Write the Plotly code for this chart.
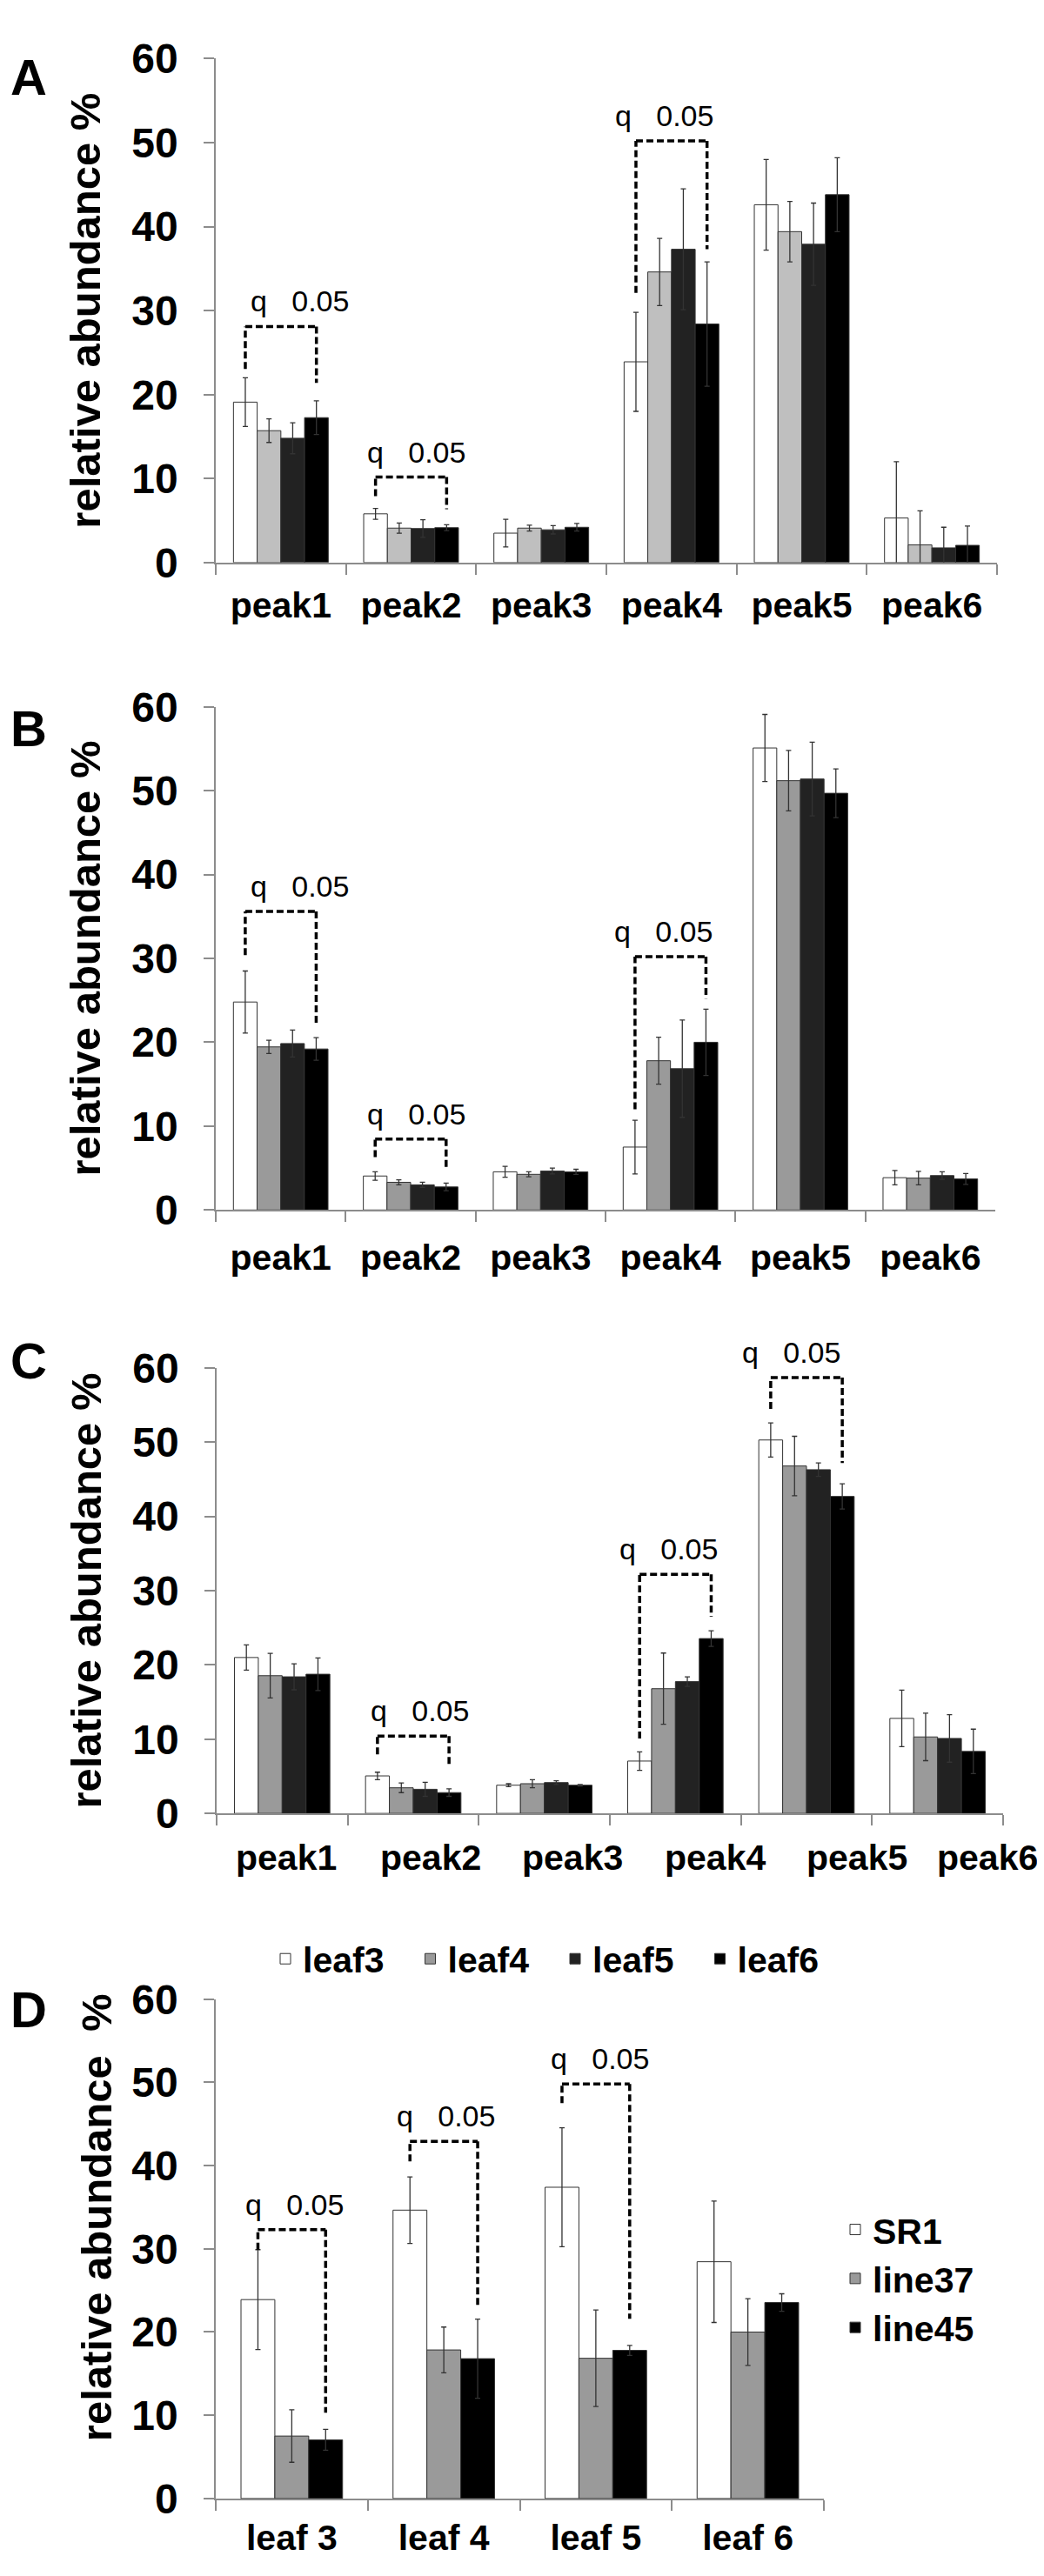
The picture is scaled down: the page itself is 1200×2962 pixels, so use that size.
import plotly.graph_objects as go

W, H = 1200, 2962
FONT = "Liberation Sans, Arial, Helvetica, sans-serif"

# ---------------- data ----------------
peaks = ["peak1", "peak2", "peak3", "peak4", "peak5", "peak6"]
leaf_series = ["leaf3", "leaf4", "leaf5", "leaf6"]

A_leaf3 = [19.1, 5.8, 3.5, 23.9, 42.6, 5.3]
A_leaf3_err = [2.9, 0.65, 1.65, 5.9, 5.4, 6.7]
A_leaf4 = [15.7, 4.1, 4.1, 34.6, 39.4, 2.1]
A_leaf4_err = [1.4, 0.6, 0.35, 4.0, 3.6, 4.05]
A_leaf5 = [14.8, 4.05, 3.9, 37.3, 37.9, 1.75]
A_leaf5_err = [1.85, 1.05, 0.5, 7.2, 4.9, 2.45]
A_leaf6 = [17.25, 4.15, 4.2, 28.4, 43.8, 2.05]
A_leaf6_err = [2.0, 0.35, 0.45, 7.4, 4.4, 2.3]

B_leaf3 = [24.8, 4.05, 4.55, 7.5, 55.1, 3.85]
B_leaf3_err = [3.7, 0.5, 0.65, 3.2, 4.0, 0.85]
B_leaf4 = [19.45, 3.3, 4.25, 17.8, 51.2, 3.8]
B_leaf4_err = [0.8, 0.3, 0.3, 2.8, 3.6, 0.8]
B_leaf5 = [19.85, 3.0, 4.65, 16.85, 51.4, 4.1]
B_leaf5_err = [1.6, 0.3, 0.35, 5.8, 4.4, 0.45]
B_leaf6 = [19.2, 2.75, 4.55, 20.0, 49.7, 3.7]
B_leaf6_err = [1.35, 0.45, 0.3, 3.95, 2.9, 0.65]

C_leaf3 = [21.0, 5.05, 3.8, 7.05, 50.3, 12.8]
C_leaf3_err = [1.7, 0.5, 0.2, 1.25, 2.3, 3.8]
C_leaf4 = [18.55, 3.45, 4.0, 16.8, 46.8, 10.3]
C_leaf4_err = [3.0, 0.65, 0.55, 4.8, 4.0, 3.2]
C_leaf5 = [18.4, 3.25, 4.15, 17.75, 46.3, 10.1]
C_leaf5_err = [1.75, 0.95, 0.25, 0.65, 0.9, 3.2]
C_leaf6 = [18.75, 2.8, 3.8, 23.55, 42.7, 8.35]
C_leaf6_err = [2.2, 0.5, 0.1, 1.05, 1.7, 3.0]

leaves = ["leaf 3", "leaf 4", "leaf 5", "leaf 6"]
line_series = ["SR1", "line37", "line45"]
D_SR1 = [23.9, 34.65, 37.4, 28.45]
D_SR1_err = [6.0, 4.0, 7.15, 7.3]
D_line37 = [7.5, 17.85, 16.85, 20.0]
D_line37_err = [3.15, 2.75, 5.8, 4.0]
D_line45 = [7.05, 16.8, 17.8, 23.55]
D_line45_err = [1.25, 4.75, 0.6, 1.05]

# significance brackets: (panel, category index, first bar, last bar, top, left leg end, right leg end)
brackets = [
    ("A", 0, 0, 3, 28.1, 23.05, 21.4),
    ("A", 1, 0, 3, 10.17, 7.9, 6.35),
    ("A", 3, 0, 3, 50.2, 32.1, 37.3),
    ("B", 0, 0, 3, 35.6, 30.4, 22.3),
    ("B", 1, 0, 3, 8.46, 6.3, 4.83),
    ("B", 3, 0, 3, 30.2, 12.0, 25.2),
    ("C", 1, 0, 3, 10.4, 7.96, 6.23),
    ("C", 3, 0, 3, 32.2, 10.1, 26.5),
    ("C", 4, 0, 3, 58.7, 54.5, 47.2),
    ("D", 0, 0, 2, 32.3, 29.9, 10.3),
    ("D", 1, 0, 2, 42.9, 40.5, 23.2),
    ("D", 2, 0, 2, 49.8, 47.5, 21.6),
]
bracket_label = "q\u00a0\u00a0\u00a00.05"
bracket_text_shift = [22, 6, -8, 22, 6, -8, 7, -8, -18, 3, 2, 5]

# ---------------- layout geometry (pixels) ----------------
panels = {
    "A": dict(xa="x", ya="y", x=(240, 1138), y=(34, 624)),
    "B": dict(xa="x2", ya="y2", x=(240, 1136), y=(793, 1382)),
    "C": dict(xa="x3", ya="y3", x=(241, 1145), y=(1567, 2088.5)),
    "D": dict(xa="x4", ya="y4", x=(240, 939), y=(2306, 2890.6)),
}
GAP_PEAK = 0.272
GAP_LEAF = 0.332

fig = go.Figure()


def add_group(panel, cats, vals_list, errs_list, names, colors, gap, legend=None):
    p = panels[panel]
    n = len(vals_list)
    bw = (1 - gap) / n
    for k in range(n):
        fig.add_trace(go.Bar(
            x=cats, y=vals_list[k], name=names[k],
            xaxis=p["xa"], yaxis=p["ya"],
            width=bw, offset=-(1 - gap) / 2 + k * bw,
            marker=dict(color=colors[k], line=dict(color="#333333", width=1)),
            error_y=dict(type="data", array=errs_list[k], visible=True,
                         color="#333333", thickness=1.3, width=3),
            cliponaxis=False,
            showlegend=legend is not None,
            legend=legend if legend else "legend",
        ))


add_group("A", peaks, [A_leaf3, A_leaf4, A_leaf5, A_leaf6],
          [A_leaf3_err, A_leaf4_err, A_leaf5_err, A_leaf6_err],
          leaf_series, ["#ffffff", "#bfbfbf", "#222222", "#000000"], GAP_PEAK)
add_group("B", peaks, [B_leaf3, B_leaf4, B_leaf5, B_leaf6],
          [B_leaf3_err, B_leaf4_err, B_leaf5_err, B_leaf6_err],
          leaf_series, ["#ffffff", "#9a9a9a", "#222222", "#000000"], GAP_PEAK)
add_group("C", peaks, [C_leaf3, C_leaf4, C_leaf5, C_leaf6],
          [C_leaf3_err, C_leaf4_err, C_leaf5_err, C_leaf6_err],
          leaf_series, ["#ffffff", "#9a9a9a", "#222222", "#000000"], GAP_PEAK,
          legend="legend")
add_group("D", leaves, [D_SR1, D_line37, D_line45],
          [D_SR1_err, D_line37_err, D_line45_err],
          line_series, ["#ffffff", "#9a9a9a", "#000000"], GAP_LEAF,
          legend="legend2")

# ---------------- axes ----------------
AX_GRAY = "#8c8c8c"
TITLE_FONT = dict(family=FONT, size=49, color="black", weight="bold")
layout_axes = {}
standoffs = {"A": 12, "B": 18, "C": 12, "D": 8}
for i, (key, p) in enumerate(panels.items()):
    sfx = "" if i == 0 else str(i + 1)
    cats = leaves if key == "D" else peaks
    layout_axes["xaxis" + sfx] = dict(
        domain=[p["x"][0] / W, p["x"][1] / W], anchor="y" + sfx,
        type="category", categoryorder="array", categoryarray=cats,
        range=[-0.5, len(cats) - 0.5],
        showline=True, linecolor=AX_GRAY, linewidth=1.5,
        ticks="outside", ticklen=12, tickcolor=AX_GRAY, tickwidth=1.5,
        tickson="boundaries", showgrid=False, zeroline=False,
        showticklabels=(key != "C"),
        ticklabelstandoff=standoffs[key],
        tickfont=dict(family=FONT, size=41, color="black", weight="bold"),
    )
    layout_axes["yaxis" + sfx] = dict(
        domain=[1 - p["y"][1] / H, 1 - p["y"][0] / H], anchor="x" + sfx,
        range=[0, 60], tick0=0, dtick=10,
        showline=True, linecolor=AX_GRAY, linewidth=1.5,
        ticks="outside", ticklen=12, tickcolor=AX_GRAY, tickwidth=1.5,
        showgrid=False, zeroline=False,
        ticklabelstandoff=20,
        tickfont=dict(family=FONT, size=48, color="black", weight="bold"),
    )
    if key != "D":
        layout_axes["yaxis" + sfx]["title"] = dict(
            text="relative abundance %", standoff=20, font=TITLE_FONT)

# ---------------- brackets ----------------
shapes = []
annotations = []
for (panel, ci, b0, b1, top, yl, yr), shift in zip(brackets, bracket_text_shift):
    p = panels[panel]
    n = 3 if panel == "D" else 4
    gap = GAP_LEAF if panel == "D" else GAP_PEAK
    bw = (1 - gap) / n
    xl = ci - (1 - gap) / 2 + (b0 + 0.5) * bw
    xr = ci - (1 - gap) / 2 + (b1 + 0.5) * bw
    dash_line = dict(color="black", width=3.5, dash="8px,4px")
    for (x0, y0, x1, y1) in [(xl, yl, xl, top), (xl, top, xr, top), (xr, top, xr, yr)]:
        shapes.append(dict(type="line", xref=p["xa"], yref=p["ya"],
                           x0=x0, y0=y0, x1=x1, y1=y1, line=dash_line, layer="above"))
    annotations.append(dict(
        text=bracket_label, xref=p["xa"], yref=p["ya"], x=(xl + xr) / 2, y=top,
        xanchor="center", yanchor="bottom", yshift=8, xshift=shift, showarrow=False,
        font=dict(family=FONT, size=34, color="black")))

# panel C: shifted category labels (as in the original)
C_label_pos = [0.032, 1.13, 2.216, 3.30, 4.388, 5.38]
for name, xp in zip(peaks, C_label_pos):
    annotations.append(dict(
        text=name, xref="x3", yref="y3", x=xp, y=0, xanchor="center", yanchor="top",
        yshift=-26, showarrow=False,
        font=dict(family=FONT, size=41, color="black", weight="bold")))

# panel D y title (sits a little above the axis centre in the original)
annotations.append(dict(
    text="relative abundance\u00a0\u00a0%", textangle=-90,
    xref="paper", yref="paper", x=103 / W, y=1 - 2562 / H,
    xanchor="center", yanchor="middle", showarrow=False, font=TITLE_FONT))

# panel letters
for letter, ytop in [("A", 32), ("B", 795), ("C", 1535), ("D", 2295)]:
    annotations.append(dict(
        text=letter, xref="paper", yref="paper", x=2 / W, y=1 - (ytop - 12) / H,
        xanchor="left", yanchor="top", showarrow=False,
        font=dict(family=FONT, size=58, color="black", weight="bold")))

fig.update_layout(
    width=W, height=H, autosize=False,
    margin=dict(l=0, r=0, t=0, b=0),
    paper_bgcolor="white", plot_bgcolor="white",
    barmode="overlay",
    font=dict(family=FONT, color="black"),
    shapes=shapes, annotations=annotations,
    legend=dict(orientation="h", x=300 / W, xanchor="left",
                y=1 - 2259 / H, yanchor="middle",
                entrywidth=121.5, entrywidthmode="pixels",
                traceorder="normal", bgcolor="rgba(0,0,0,0)",
                font=dict(family=FONT, size=41, color="black", weight="bold")),
    legend2=dict(orientation="v", x=955 / W, xanchor="left",
                 y=1 - 2633 / H, yanchor="middle",
                 traceorder="normal", bgcolor="rgba(0,0,0,0)",
                 font=dict(family=FONT, size=41, color="black", weight="bold")),
    **layout_axes,
)

fig.write_html("out.html")
